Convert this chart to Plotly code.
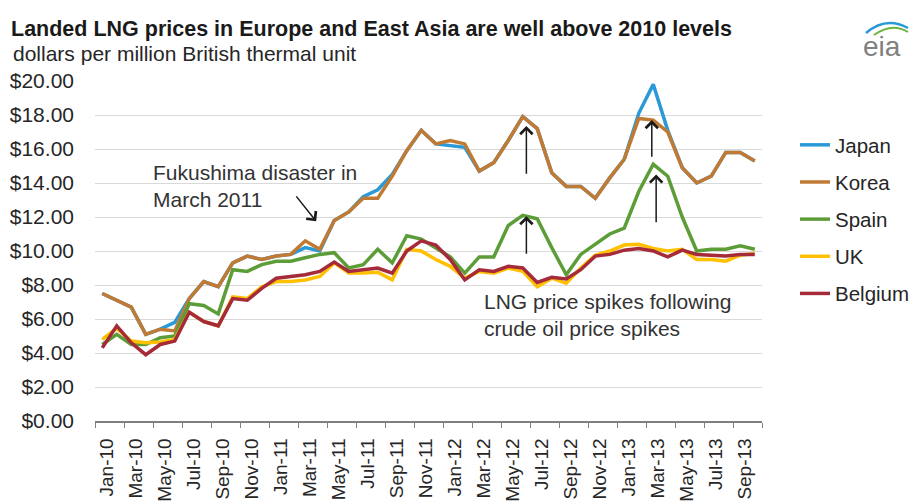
import plotly.graph_objects as go

# Monthly landed LNG prices, $/MMBtu, Jan-2010 .. Oct-2013
months = [f"{m}-{y}" for y in ("10", "11", "12", "13")
          for m in ("Jan", "Feb", "Mar", "Apr", "May", "Jun",
                    "Jul", "Aug", "Sep", "Oct", "Nov", "Dec")][:46]

japan = [7.5, 7.1, 6.7, 5.1, 5.4, 5.8, 7.2, 8.2, 7.9, 9.3, 9.7, 9.5,
         9.7, 9.8, 10.2, 10.0, 11.8, 12.3, 13.2, 13.6, 14.5, 15.9, 17.1, 16.3,
         16.2, 16.1, 14.7, 15.2, 16.5, 17.9, 17.2, 14.6, 13.8, 13.8, 13.1, 14.3,
         15.4, 18.1, 19.8, 17.1, 14.9, 14.0, 14.4, 15.8, 15.8, 15.3]
korea = [7.5, 7.1, 6.7, 5.1, 5.4, 5.3, 7.2, 8.2, 7.9, 9.3, 9.7, 9.5,
         9.7, 9.8, 10.6, 10.1, 11.8, 12.3, 13.1, 13.1, 14.4, 15.9, 17.1, 16.3,
         16.5, 16.3, 14.7, 15.2, 16.5, 17.9, 17.2, 14.6, 13.8, 13.8, 13.1, 14.3,
         15.4, 17.8, 17.7, 17.0, 14.9, 14.0, 14.4, 15.8, 15.8, 15.3]
spain = [4.5, 5.1, 4.5, 4.5, 4.9, 5.0, 6.9, 6.8, 6.3, 8.9, 8.8, 9.2,
         9.4, 9.4, 9.6, 9.8, 9.9, 9.0, 9.2, 10.1, 9.3, 10.9, 10.7, 10.2,
         9.65, 8.7, 9.65, 9.65, 11.5, 12.1, 11.9, 10.2, 8.6, 9.8, 10.4, 11.0,
         11.35, 13.5, 15.1, 14.4, 12.0, 10.0, 10.1, 10.1, 10.3, 10.1]
uk = [4.8, 5.45, 4.7, 4.6, 4.65, 4.8, 6.4, 5.85, 5.6, 7.3, 7.2, 7.9,
      8.2, 8.2, 8.3, 8.5, 9.3, 8.7, 8.7, 8.75, 8.3, 10.1, 10.0, 9.5,
      9.1, 8.4, 8.8, 8.7, 9.0, 8.8, 7.9, 8.4, 8.1, 9.0, 9.75, 10.0,
      10.35, 10.4, 10.15, 10.0, 10.1, 9.5, 9.5, 9.4, 9.75, 9.85]
belgium = [4.3, 5.6, 4.6, 3.9, 4.5, 4.7, 6.4, 5.85, 5.6, 7.2, 7.1, 7.8,
           8.4, 8.5, 8.6, 8.8, 9.35, 8.8, 8.9, 9.0, 8.7, 10.0, 10.6, 10.35,
           9.5, 8.3, 8.9, 8.8, 9.1, 9.0, 8.15, 8.45, 8.35, 8.9, 9.7, 9.8,
           10.05, 10.15, 10.0, 9.65, 10.05, 9.8, 9.75, 9.7, 9.8, 9.8]

series = [("Japan", japan, "#2a9ad6"),
          ("Korea", korea, "#c17a34"),
          ("Spain", spain, "#5c9d38"),
          ("UK", uk, "#ffc000"),
          ("Belgium", belgium, "#a52a3a")]

FONT = "Liberation Sans, Arial, sans-serif"
TXT = "#262626"

idx = list(range(len(months)))

fig = go.Figure()
for name, vals, col in series:
    fig.add_trace(go.Scatter(x=idx, y=vals, name=name, mode="lines",
                             legendgroup=name,
                             line=dict(color=col, width=3.5)))

W, H = 915, 503
L, R, T, B = 95, 153, 81, 82
pw, ph = W - L - R, H - T - B


def px(x):
    return (x - L) / pw


def py(y):
    return (H - B - y) / ph


annotations = [
    dict(text="<b>Landed LNG prices in Europe and East Asia are well above 2010 levels</b>",
         x=px(9), y=py(29), xref="paper", yref="paper", xanchor="left",
         yanchor="middle", showarrow=False, font=dict(size=21.5, color="#1a1a1a")),
    dict(text="dollars per million British thermal unit",
         x=px(11), y=py(53), xref="paper", yref="paper", xanchor="left",
         yanchor="middle", showarrow=False, font=dict(size=21, color=TXT)),
    dict(text="Fukushima disaster in<br>March 2011",
         x=3.35, y=13.85, xref="x", yref="y", xanchor="left",
         yanchor="middle", align="left", showarrow=False,
         font=dict(size=21, color="#333333")),
    dict(text="LNG price spikes following<br>crude oil price spikes",
         x=26.2, y=6.25, xref="x", yref="y", xanchor="left",
         yanchor="middle", align="left", showarrow=False,
         font=dict(size=21, color="#333333")),
    dict(text="eia", x=px(882), y=py(47), xref="paper", yref="paper",
         xanchor="center", yanchor="middle", showarrow=False,
         font=dict(size=28, color="#808080", family=FONT)),
]

# pointer arrows (tail -> head, in data units)
arrows = [
    ((13.3, 13.3), (14.75, 11.75)),
    ((29.25, 14.45), (29.25, 17.35)),
    ((29.25, 9.75), (29.25, 12.05)),
    ((37.9, 15.45), (37.9, 17.7)),
    ((38.2, 11.6), (38.2, 14.5)),
]
for (tx, ty), (hx, hy) in arrows:
    annotations.append(dict(x=hx, y=hy, ax=tx, ay=ty, xref="x", yref="y",
                            axref="x", ayref="y", text="", showarrow=True,
                            arrowhead=4, arrowsize=1.6, arrowwidth=1.5,
                            arrowcolor="#1a1a1a"))

# eia logo swoosh
shapes = [
    dict(type="path", xref="paper", yref="paper",
         path=f"M {px(866)},{py(33)} Q {px(886)},{py(16)} {px(908)},{py(28)}",
         line=dict(color="#2a9ad6", width=2.5)),
    dict(type="path", xref="paper", yref="paper",
         path=f"M {px(874)},{py(35)} Q {px(892)},{py(22)} {px(908)},{py(32)}",
         line=dict(color="#6db33f", width=2)),
]

fig.update_layout(
    width=W, height=H,
    margin=dict(l=L, r=R, t=T, b=B, pad=0, autoexpand=False),
    paper_bgcolor="white", plot_bgcolor="white",
    font=dict(family=FONT, size=20, color=TXT),
    showlegend=True,
    legend=dict(x=px(795), y=py(125), xanchor="left", yanchor="top",
                traceorder="grouped", tracegroupgap=7.5,
                font=dict(size=20.5, color=TXT), bgcolor="rgba(0,0,0,0)"),
    annotations=annotations,
    shapes=shapes,
    xaxis=dict(range=[-0.5, len(months) - 0.5],
               tickmode="array", tickvals=[i + 0.3 for i in idx[::2]],
               ticktext=months[::2],
               tickangle=-90, ticks="", ticklabelstandoff=8,
               showgrid=False, zeroline=False, automargin=False,
               showline=True, linecolor="#7f7f7f", linewidth=1.5,
               minor=dict(tickmode="array",
                          tickvals=[i - 0.5 for i in range(0, len(months) + 1, 2)],
                          ticks="outside", ticklen=5, tickwidth=1.2,
                          tickcolor="#7f7f7f", showgrid=False),
               tickfont=dict(size=19, color=TXT), fixedrange=True),
    yaxis=dict(range=[0, 20], dtick=2, tick0=0, tickprefix="$",
               tickformat=".2f", showgrid=True, gridcolor="#d9d9d9",
               gridwidth=1.3, zeroline=False, showline=False, ticks="",
               automargin=False,
               ticklabelstandoff=20, tickfont=dict(size=21, color=TXT),
               fixedrange=True),
)

fig.write_html("out.html")
